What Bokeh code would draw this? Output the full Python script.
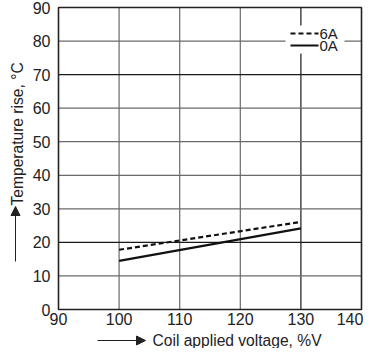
import math
from bokeh.plotting import figure
from bokeh.models import Range1d, Label, Arrow, NormalHead
from bokeh.core.properties import value
from bokeh.embed import file_html
from bokeh.resources import INLINE

# ---- data ----
voltage = [100, 130]
rise_6a = [17.8, 26.1]
rise_0a = [14.5, 24.2]
series_names = ["6A", "0A"]
x_ticks = [90, 100, 110, 120, 130, 140]
y_ticks = [0, 10, 20, 30, 40, 50, 60, 70, 80, 90]
dark_x_lines = [130]
dark_y_lines = [20, 70]
x_label = "Coil applied voltage, %V"
y_label = "Temperature rise, °C"

# ---- layout (pixels) ----
W, H = 364, 348
F_LEFT, F_RIGHT, F_TOP, F_BOTTOM = 58, 361, 7, 309   # where the chart box sits
FONT = "Liberation Sans"
INK = "#222222"
LINE = "#111111"
GRID = "#6a6a6a"
GRID_DARK = "#1a1a1a"
DASH = "5 3"

x0, x1 = x_ticks[0], x_ticks[-1]
y0, y1 = y_ticks[0], y_ticks[-1]
kx = (F_RIGHT - F_LEFT) / (x1 - x0)
ky = (F_BOTTOM - F_TOP) / (y1 - y0)
x_range = Range1d(x0 - F_LEFT / kx, x1 + (W - F_RIGHT) / kx)
y_range = Range1d(y0 - (H - F_BOTTOM) / ky, y1 + F_TOP / ky)


def px_x(px):
    return x0 + (px - F_LEFT) / kx


def px_y(py):
    return y1 - (py - F_TOP) / ky


p = figure(width=W, height=H, output_backend="svg", toolbar_location=None,
           x_range=x_range, y_range=y_range, x_axis_type=None, y_axis_type=None,
           min_border=0, min_border_left=0, min_border_right=0,
           min_border_top=0, min_border_bottom=0)
p.background_fill_color = "white"
p.border_fill_color = "white"
p.outline_line_color = None

# grid lines inside the chart box
vx = x_ticks[1:-1]
hy = y_ticks[1:-1]
p.segment(x0=vx, x1=vx, y0=[y0] * len(vx), y1=[y1] * len(vx),
          line_color=[GRID_DARK if v in dark_x_lines else GRID for v in vx], line_width=1.2)
p.segment(x0=[x0] * len(hy), x1=[x1] * len(hy), y0=hy, y1=hy,
          line_color=[GRID_DARK if v in dark_y_lines else GRID for v in hy], line_width=1.2)

# chart box
p.quad(left=[x0], right=[x1], bottom=[y0], top=[y1], fill_color=None,
       line_color=INK, line_width=1.6)

# tick labels (last one nudged so it stays on the canvas)
x_off = [0] * (len(x_ticks) - 1) + [min(0, W - 1 - (F_RIGHT + 13.5))]
p.text(x=x_ticks, y=[y0] * len(x_ticks), text=[str(t) for t in x_ticks],
       text_font=value(FONT), text_font_size="16px", text_color=INK,
       text_align="center", text_baseline="top", y_offset=3, x_offset=x_off)
p.text(x=[x0] * len(y_ticks), y=y_ticks, text=[str(t) for t in y_ticks],
       text_font=value(FONT), text_font_size="16px", text_color=INK,
       text_align="right", text_baseline="middle", x_offset=-8)

# series
p.line(voltage, rise_6a, line_color=LINE, line_width=2.2, line_dash=DASH)
p.line(voltage, rise_0a, line_color=LINE, line_width=2.2)

# legend (white patch over the grid, sample lines, names)
p.quad(left=[px_x(285)], right=[px_x(344)], top=[px_y(25)], bottom=[px_y(53)],
       fill_color="white", line_color=None)
row_y = [px_y(33), px_y(45)]
p.line([px_x(290), px_x(318)], [row_y[0]] * 2, line_color=LINE, line_width=2.2, line_dash=DASH)
p.line([px_x(290), px_x(318)], [row_y[1]] * 2, line_color=LINE, line_width=2.2)
p.text(x=[px_x(319)] * 2, y=row_y, text=series_names,
       text_font=value(FONT), text_font_size="15px", text_color=INK,
       text_align="left", text_baseline="middle")

# axis titles with arrows (screen units from the canvas bottom-left)
p.add_layout(Label(x=152, y=H - 340, x_units="screen", y_units="screen", text=x_label,
                   text_font=FONT, text_font_size="15.6px", text_color=INK,
                   text_align="left", text_baseline="middle"))
p.add_layout(Arrow(x_start=97, y_start=H - 340, x_end=145, y_end=H - 340,
                   start_units="screen", end_units="screen",
                   line_color=INK, line_width=1,
                   end=NormalHead(size=9, fill_color=INK, line_color=INK)))
p.add_layout(Label(x=17, y=H - 205, x_units="screen", y_units="screen", text=y_label,
                   angle=math.pi / 2,
                   text_font=FONT, text_font_size="15.6px", text_color=INK,
                   text_align="left", text_baseline="middle"))
p.add_layout(Arrow(x_start=15, y_start=H - 261, x_end=15, y_end=H - 206,
                   start_units="screen", end_units="screen",
                   line_color=INK, line_width=1,
                   end=NormalHead(size=9, fill_color=INK, line_color=INK)))

open("out.html", "w").write(file_html(p, INLINE))
